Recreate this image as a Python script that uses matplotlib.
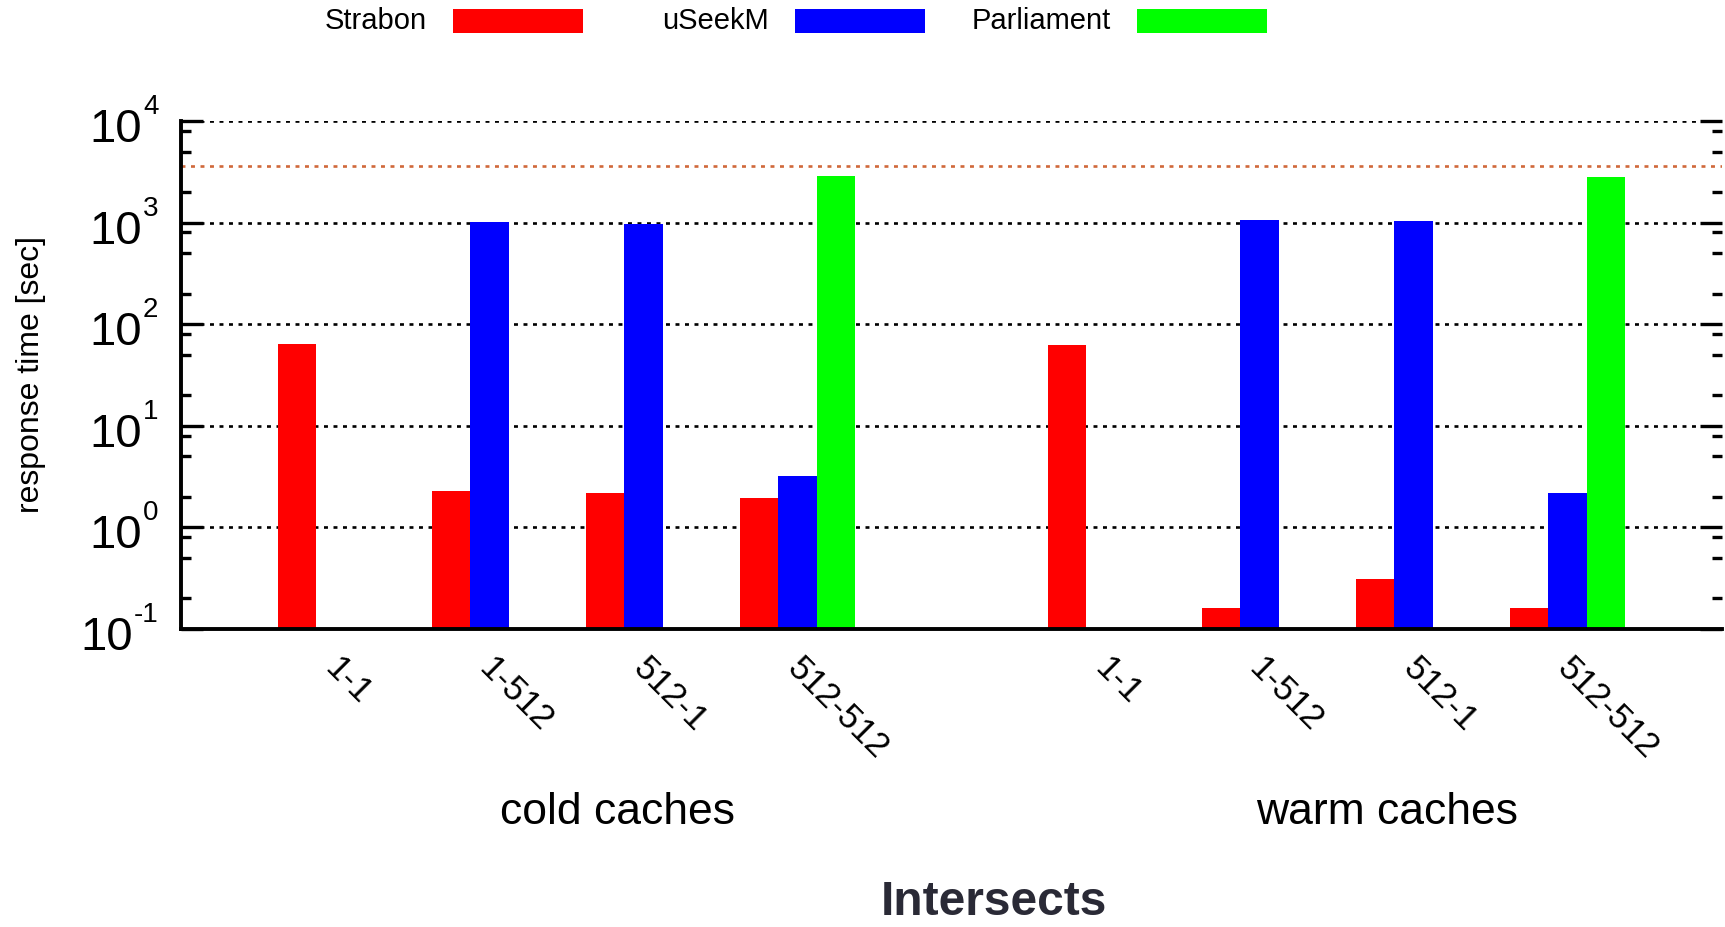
import matplotlib
matplotlib.use("Agg")
import matplotlib.pyplot as plt
import matplotlib.transforms as mtransforms
from matplotlib.patches import Rectangle
from matplotlib.ticker import FixedLocator, LogLocator, NullFormatter

plt.rcParams["font.family"] = ["Liberation Sans", "DejaVu Sans"]

# ---- data -------------------------------------------------------------
queries = ["1-1", "1-512", "512-1", "512-512"]
cache_states = ["cold caches", "warm caches"]
systems = ["Strabon", "uSeekM", "Parliament"]
colors = ["#ff0000", "#0000ff", "#00ff00"]

# response times in seconds (None: system did not answer the query)
strabon_cold = [63.5, 2.3, 2.2, 1.95]
useekm_cold = [None, 1010, 960, 3.2]
parliament_cold = [None, None, None, 2880]

strabon_warm = [62, 0.16, 0.31, 0.16]
useekm_warm = [None, 1060, 1035, 2.2]
parliament_warm = [None, None, None, 2800]

timeout = 3600  # one hour limit
decades = [-1, 0, 1, 2, 3, 4]

# ---- figure ------------------------------------------------------------
fig = plt.figure(figsize=(17.25, 9.27), dpi=100)
ax = fig.add_axes([0.1052, 0.3215, 0.998 - 0.1052, 0.8695 - 0.3215])
ax.set_yscale("log")

bar_w = 0.25
group_slots = [[0, 1, 2, 3], [5, 6, 7, 8]]
series = [
    [strabon_cold, useekm_cold, parliament_cold],
    [strabon_warm, useekm_warm, parliament_warm],
]

for slots, group in zip(group_slots, series):
    for k, (vals, col) in enumerate(zip(group, colors)):
        xs = [s + (k - 1) * bar_w for s, v in zip(slots, vals) if v is not None]
        ys = [v for v in vals if v is not None]
        ax.bar(xs, ys, width=bar_w, color=col, linewidth=0, zorder=2)

dots = (0, (1.5, 2.1))
ax.axhline(timeout, color="#d0683a", linestyle=dots, linewidth=1.9, zorder=1)

ax.set_xlim(-1, 9)
ax.set_ylim(0.1, 1e4)

# y axis: ticks on both sides, labels drawn as "10" plus a raised exponent
ax.yaxis.set_major_locator(FixedLocator([10.0 ** e for e in decades]))
ax.yaxis.set_major_formatter(NullFormatter())
ax.yaxis.set_minor_locator(LogLocator(base=10, subs=(2, 5, 8)))
ax.yaxis.set_minor_formatter(NullFormatter())
ax.tick_params(axis="y", which="major", direction="in", length=15.5, width=2.4, right=True)
ax.tick_params(axis="y", which="minor", direction="in", length=7.5, width=2.4, right=True)
ax.yaxis.grid(True, which="major", color="black", linestyle=dots, linewidth=1.9)
ax.set_axisbelow(True)

ytrans = ax.get_yaxis_transform()
for e in decades:
    exp_off = mtransforms.ScaledTranslation(-23 / 100, 7 / 100, fig.dpi_scale_trans)
    exp_txt = ax.text(0, 10.0 ** e, str(e), transform=ytrans + exp_off,
                      ha="right", va="baseline", fontsize=20)
    ax.annotate("10", xy=(0, 10.0 ** e), xycoords=(exp_txt, "data"),
                xytext=(-1, -21), textcoords="offset pixels",
                ha="right", va="baseline", fontsize=34)

ax.set_ylabel("response time [sec]", fontsize=23)
ax.yaxis.set_label_coords(-0.088, 0.5)

# x axis
xpos = [s for slots in group_slots for s in slots]
ax.set_xticks(xpos)
ax.set_xticklabels(queries * 2, rotation=-45, ha="left", va="top",
                   rotation_mode="anchor", fontsize=25)
ax.tick_params(axis="x", length=0, pad=16)
shift = mtransforms.ScaledTranslation(6 / 100, 0, fig.dpi_scale_trans)
for lab in ax.get_xticklabels():
    lab.set_transform(lab.get_transform() + shift)

for side in ("top", "right"):
    ax.spines[side].set_visible(False)
for side in ("left", "bottom"):
    ax.spines[side].set_linewidth(2.8)

# group captions under the tick labels
trans = mtransforms.blended_transform_factory(ax.transData, fig.transFigure)
for slots, name in zip(group_slots, cache_states):
    ax.text(slots[0] + 1.83, 0.123, name, transform=trans, ha="center", va="center",
            fontsize=32)

fig.text(0.5762, 0.002, "Intersects", ha="center", va="bottom", fontsize=34.5,
         fontweight="bold", color="#2a2a36")

# legend: label right-aligned in front of a colour swatch, fixed column pitch
W, H = 1725.0, 927.0
for i, (name, col) in enumerate(zip(systems, colors)):
    x0 = 453.0 + 342.0 * i
    fig.add_artist(Rectangle((x0 / W, 1 - 33.0 / H), 130.0 / W, 24.0 / H,
                             transform=fig.transFigure, facecolor=col, edgecolor="none"))
    fig.text((x0 - 26.0) / W, 1 - 21.0 / H, name, ha="right", va="center", fontsize=21)

fig.savefig("out.png", dpi=100)
